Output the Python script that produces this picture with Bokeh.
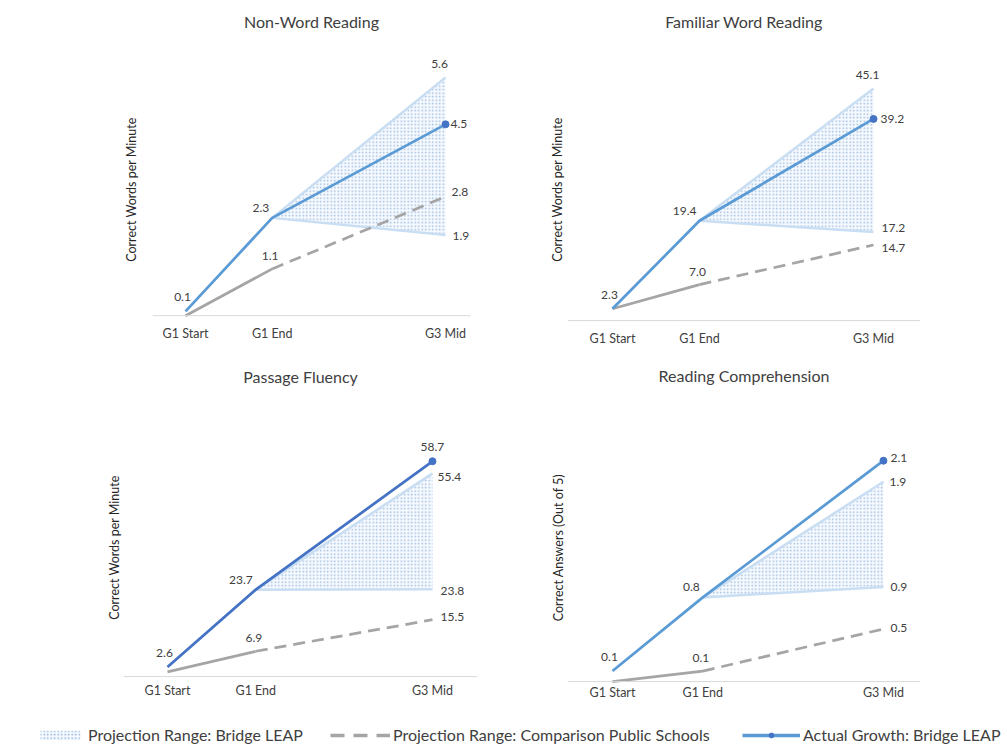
from bokeh.plotting import figure
from bokeh.models import ColumnDataSource, Range1d, FixedTicker, Legend, LegendItem, Span
from bokeh.layouts import column, row
from bokeh.embed import file_html
from bokeh.resources import INLINE
from bokeh.core.properties import value

# ---------------- data ----------------
stages = ["G1 Start", "G1 End", "G3 Mid"]
stage_x = [0, 1, 3]

titles = ["Non-Word Reading", "Familiar Word Reading", "Passage Fluency", "Reading Comprehension"]
y_titles = ["Correct Words per Minute", "Correct Words per Minute",
            "Correct Words per Minute", "Correct Answers (Out of 5)"]

nonword_actual = [0.1, 2.3, 4.5]
nonword_comparison = [0.0, 1.1, 2.8]
nonword_projection = [5.6, 1.9]          # upper, lower at G3 Mid

familiar_actual = [2.3, 19.4, 39.2]
familiar_comparison = [2.3, 7.0, 14.7]
familiar_projection = [45.1, 17.2]

passage_actual = [2.6, 23.7, 58.7]
passage_comparison = [1.3, 6.9, 15.5]
passage_projection = [55.4, 23.8]

comprehension_actual = [0.1, 0.8, 2.1]
comprehension_comparison = [0.0, 0.1, 0.5]
comprehension_projection = [1.9, 0.9]

legend_labels = ["Projection Range: Bridge LEAP",
                 "Projection Range: Comparison Public Schools",
                 "Actual Growth: Bridge LEAP"]

# ---------------- style ----------------
FONT = "Lato"
BLUE = "#5b9bd5"
BLUE_DARK = "#4472c4"
GRAY = "#a5a5a5"
SHADE_LINE = "#c9def2"
SHADE_DOT = "#8db3de"
SHADE_FILL = "#f6f9fd"
TEXT = "#404040"


def make_chart(title, ytitle, actual, comp, proj, geom, line_color, g3_style):
    (w, h, bl, br, bt, bb, xr, yr, ystand, xstand, tstand) = geom
    p = figure(width=w, height=h, x_range=Range1d(*xr), y_range=Range1d(*yr),
               output_backend="svg", toolbar_location=None,
               min_border_left=bl, min_border_right=br,
               min_border_top=bt, min_border_bottom=bb,
               background_fill_color="white", border_fill_color="white")
    p.outline_line_color = None
    p.xgrid.visible = False
    p.ygrid.visible = False

    p.title.text = title
    p.title.align = "center"
    p.title.text_font = FONT
    p.title.text_font_size = "16px"
    p.title.text_font_style = "normal"
    p.title.text_color = TEXT
    p.title.standoff = tstand

    # category labels along the bottom
    xa = p.xaxis[0]
    xa.ticker = FixedTicker(ticks=stage_x)
    xa.major_label_overrides = {x: s for x, s in zip(stage_x, stages)}
    xa.major_tick_line_color = None
    xa.major_tick_out = 0
    xa.major_tick_in = 0
    xa.minor_tick_line_color = None
    xa.minor_tick_out = 0
    xa.axis_line_color = None
    xa.major_label_text_font = FONT
    xa.major_label_text_font_size = "12.5px"
    xa.major_label_text_color = TEXT
    xa.major_label_standoff = xstand

    # horizontal base line at zero
    p.add_layout(Span(location=0, dimension="width", line_color="#d9d9d9", line_width=1))

    ya = p.yaxis[0]
    ya.ticker = FixedTicker(ticks=[])
    ya.axis_line_color = None
    ya.major_tick_line_color = None
    ya.major_tick_out = 0
    ya.major_tick_in = 0
    ya.minor_tick_line_color = None
    ya.minor_tick_out = 0
    ya.axis_label = ytitle
    ya.axis_label_text_font = FONT
    ya.axis_label_text_font_size = "12.5px"
    ya.axis_label_text_font_style = "normal"
    ya.axis_label_text_color = "#262626"
    ya.axis_label_standoff = ystand

    # projection range (triangle) – dotted fill, light edges on the two slanted sides
    p.patch(x=[stage_x[1], stage_x[2], stage_x[2]], y=[actual[1], proj[0], proj[1]],
            fill_color=SHADE_FILL, fill_alpha=1.0,
            hatch_pattern="dot", hatch_color=SHADE_DOT, hatch_scale=3.5,
            hatch_weight=0.9, hatch_alpha=0.85, line_color=None)
    p.multi_line(xs=[[stage_x[1], stage_x[2]], [stage_x[1], stage_x[2]]],
                 ys=[[actual[1], proj[0]], [actual[1], proj[1]]],
                 line_color=SHADE_LINE, line_width=2.5)

    # comparison schools
    p.line(x=stage_x[:2], y=comp[:2], line_color=GRAY, line_width=2.75)
    p.line(x=stage_x[1:], y=comp[1:], line_color=GRAY, line_width=2.75, line_dash="12 7")

    # actual growth
    p.line(x=stage_x, y=actual, line_color=line_color, line_width=2.75)
    p.scatter(x=[stage_x[2]], y=[actual[2]], size=7, color=BLUE_DARK)

    # data labels
    up_style, act_style, comp_style, low_style = g3_style
    xs, ys, txt, xo, yo, al = [], [], [], [], [], []

    def add(x, y, dx, dy, a):
        xs.append(x); ys.append(y); txt.append(f"{y:.1f}")
        xo.append(dx); yo.append(dy); al.append(a)

    add(stage_x[0], actual[0], -3, -14, "center")
    add(stage_x[1], actual[1], -3, -10, "right")
    add(stage_x[1], comp[1], -2, -13, "center")
    add(stage_x[2], comp[2], *comp_style)
    add(stage_x[2], proj[1], *low_style)
    add(stage_x[2], proj[0], *up_style)
    add(stage_x[2], actual[2], *act_style)

    src = ColumnDataSource(dict(x=xs, y=ys, t=txt, xo=xo, yo=yo, al=al))
    p.text(x="x", y="y", text="t", x_offset="xo", y_offset="yo", text_align="al",
           text_baseline="middle", text_font=value(FONT), text_font_size="12px",
           text_color=TEXT, source=src)
    return p


# geometry: width, height, border l/r/t/b, x-range, y-range,
#           ylabel standoff, xlabel standoff, title standoff
p1 = make_chart(titles[0], y_titles[0], nonword_actual, nonword_comparison, nonword_projection,
                (505, 356, 152, 35, 38, 18, (-0.381, 3.288), (-0.537, 6.472), 14, -13, 19),
                BLUE, ((-6, -14, "center"), (5, 0, "left"), (6, -5, "left"), (7, 1, "left")))
p2 = make_chart(titles[1], y_titles[1], familiar_actual, familiar_comparison, familiar_projection,
                (502, 356, 62, 87, 38, 18, (-0.517, 3.54), (-3.475, 54.44), 3, -8, 19),
                BLUE, ((-6, -14, "center"), (7, 0, "left"), (8, 3, "left"), (8, -4, "left")))
p3 = make_chart(titles[2], y_titles[2], passage_actual, passage_comparison, passage_projection,
                (505, 362, 123, 28, 34, 15, (-0.498, 3.51), (-7.34, 77.72), 2, -21, 11),
                BLUE_DARK, ((5, 4, "left"), (0, -14, "center"), (8, -3, "left"), (8, 2, "left")))
p4 = make_chart(titles[3], y_titles[3], comprehension_actual, comprehension_comparison,
                comprehension_projection,
                (502, 362, 62, 87, 34, 15, (-0.498, 3.41), (-0.2085, 2.758), 2, -19, 14),
                BLUE, ((6, 0, "left"), (7, -3, "left"), (7, -1, "left"), (7, 0, "left")))

# ---------------- legend strip ----------------
lf = figure(width=1007, height=30, x_range=Range1d(0, 1), y_range=Range1d(0, 1),
            x_axis_type=None, y_axis_type=None, output_backend="svg",
            toolbar_location=None, min_border=0, outline_line_color=None)
lf.xgrid.visible = False
lf.ygrid.visible = False
r_proj = lf.patch(x=[-3, -2, -2], y=[-3, -3, -2], fill_color=SHADE_FILL, hatch_pattern="dot",
                  hatch_color=SHADE_DOT, hatch_scale=3.5, hatch_weight=0.9, line_color=None)
r_comp = lf.line(x=[-3, -2], y=[-3, -2], line_color=GRAY, line_width=3.5, line_dash="14 9")
r_act_l = lf.line(x=[-3, -2], y=[-3, -2], line_color=BLUE, line_width=3.5)
r_act_m = lf.scatter(x=[-3], y=[-3], size=8, color=BLUE_DARK)

for lab, rends, loc, gw in [(legend_labels[0], [r_proj], (35, 4), 50),
                           (legend_labels[1], [r_comp], (330, 4), 60),
                           (legend_labels[2], [r_act_l, r_act_m], (742, 4), 58)]:
    leg = Legend(items=[LegendItem(label=lab, renderers=rends)], location=loc,
                 orientation="horizontal", padding=0, margin=0, border_line_color=None,
                 background_fill_alpha=0, glyph_width=gw, glyph_height=12, label_height=16,
                 label_standoff=3, label_text_font=FONT, label_text_font_size="16px",
                 label_text_color=TEXT)
    lf.add_layout(leg, "center")

layout = column(row(p1, p2), row(p3, p4), lf)

open("out.html", "w").write(file_html(layout, INLINE))
